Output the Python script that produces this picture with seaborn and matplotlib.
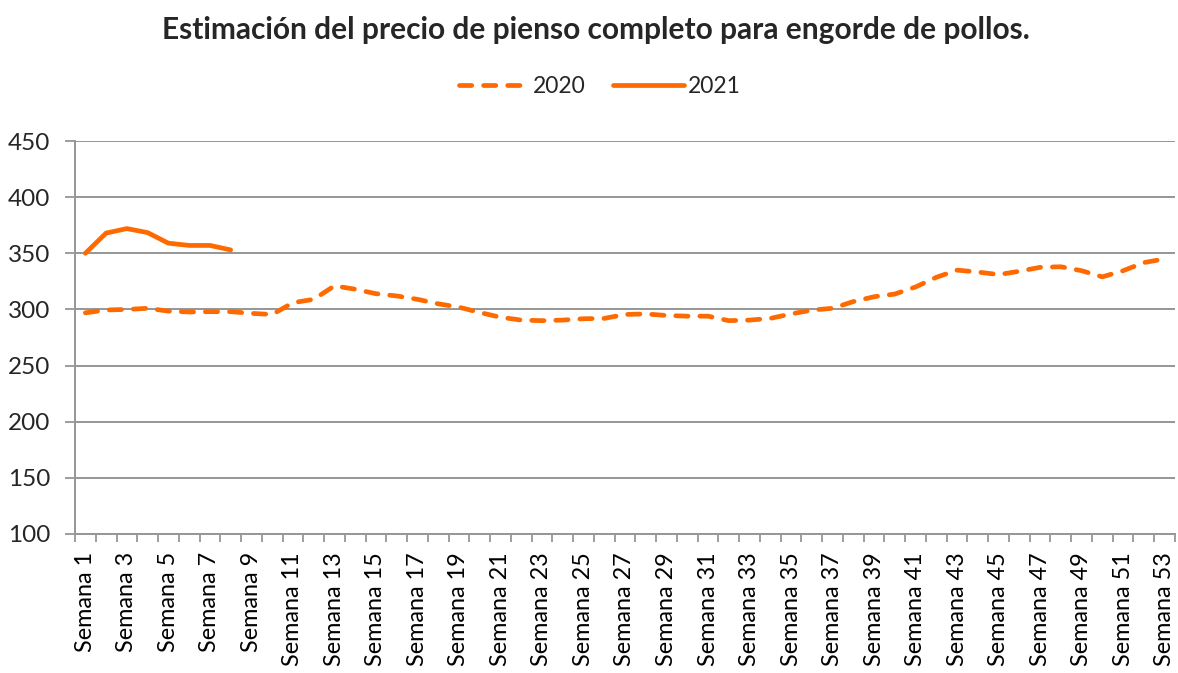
import numpy as np
import pandas as pd
import matplotlib.pyplot as plt
import seaborn as sns

semanas = list(range(1, 54))
precio_2020 = [297, 299.5, 300, 301, 298.5, 297.7, 298, 298, 296.5, 295.5,
               306, 309, 321, 318, 314, 312, 309, 305, 302, 297.3,
               293, 290.5, 290, 290.5, 291.7, 292, 295.5, 296, 294.6, 294,
               294, 290, 290.5, 292, 296, 299.4, 301, 307, 311.3, 313.7,
               320, 328.6, 335, 333.3, 331, 334, 337.5, 338, 334.5, 329,
               334.5, 341.7, 345]
precio_2021 = [350, 368, 372, 368.4, 359, 357, 357, 353]

naranja = "#FF6A00"
gris = "#969696"

df = pd.concat([
    pd.DataFrame({"semana": semanas, "precio": precio_2020, "año": "2020"}),
    pd.DataFrame({"semana": semanas[:len(precio_2021)], "precio": precio_2021, "año": "2021"}),
])

sns.set_theme(style="white")
plt.rcParams["font.family"] = ["Lato", "DejaVu Sans"]

fig = plt.figure(figsize=(11.78, 6.73), dpi=100)
ax = fig.add_axes([75 / 1178, 1 - 534 / 673, 1100 / 1178, 393 / 673])

sns.lineplot(data=df, x="semana", y="precio", hue="año", style="año",
             palette={"2020": naranja, "2021": naranja},
             dashes={"2020": (2.6, 2.5), "2021": ""},
             linewidth=3.4, ax=ax)
for line in ax.get_lines():
    line.set_dash_capstyle("round")
    line.set_solid_capstyle("round")

ax.set_xlim(0.5, 53.5)
ax.set_ylim(100, 450)
ax.set_yticks(range(100, 451, 50))
ax.set_xticks(semanas[::2])
ax.set_xticklabels([f"Semana {s}" for s in semanas[::2]], rotation=90)
ax.set_xticks(np.arange(0.5, 54, 1), minor=True)
ax.tick_params(axis="x", which="major", length=0, pad=13, labelsize=16.8, colors="black")
ax.tick_params(axis="x", which="minor", bottom=True, length=6, width=1.3, color=gris)
ax.tick_params(axis="y", left=True, length=7, width=1.3, color=gris, labelsize=17.5, pad=11)
ax.set_xlabel("")
ax.set_ylabel("")

ax.grid(axis="y", color=gris, linewidth=1.4)
ax.set_axisbelow(True)
for side in ["top", "right"]:
    ax.spines[side].set_visible(False)
for side in ["left", "bottom"]:
    ax.spines[side].set_color(gris)
    ax.spines[side].set_linewidth(1.4)

handles, labels = ax.get_legend_handles_labels()
for h in handles:
    h.set_dash_capstyle("round")
    h.set_solid_capstyle("round")
ax.legend(handles, labels, loc="center", bbox_to_anchor=(0.509, 0.871),
          bbox_transform=fig.transFigure, ncol=2, frameon=False, fontsize=16.5,
          handlelength=3.1, columnspacing=1.2, handletextpad=0.15)

fig.suptitle("Estimación del precio de pienso completo para engorde de pollos.",
             x=0.506, y=1 - 30 / 673, va="center", fontsize=21.5, fontweight="bold")

fig.savefig("out.png", dpi=100)
